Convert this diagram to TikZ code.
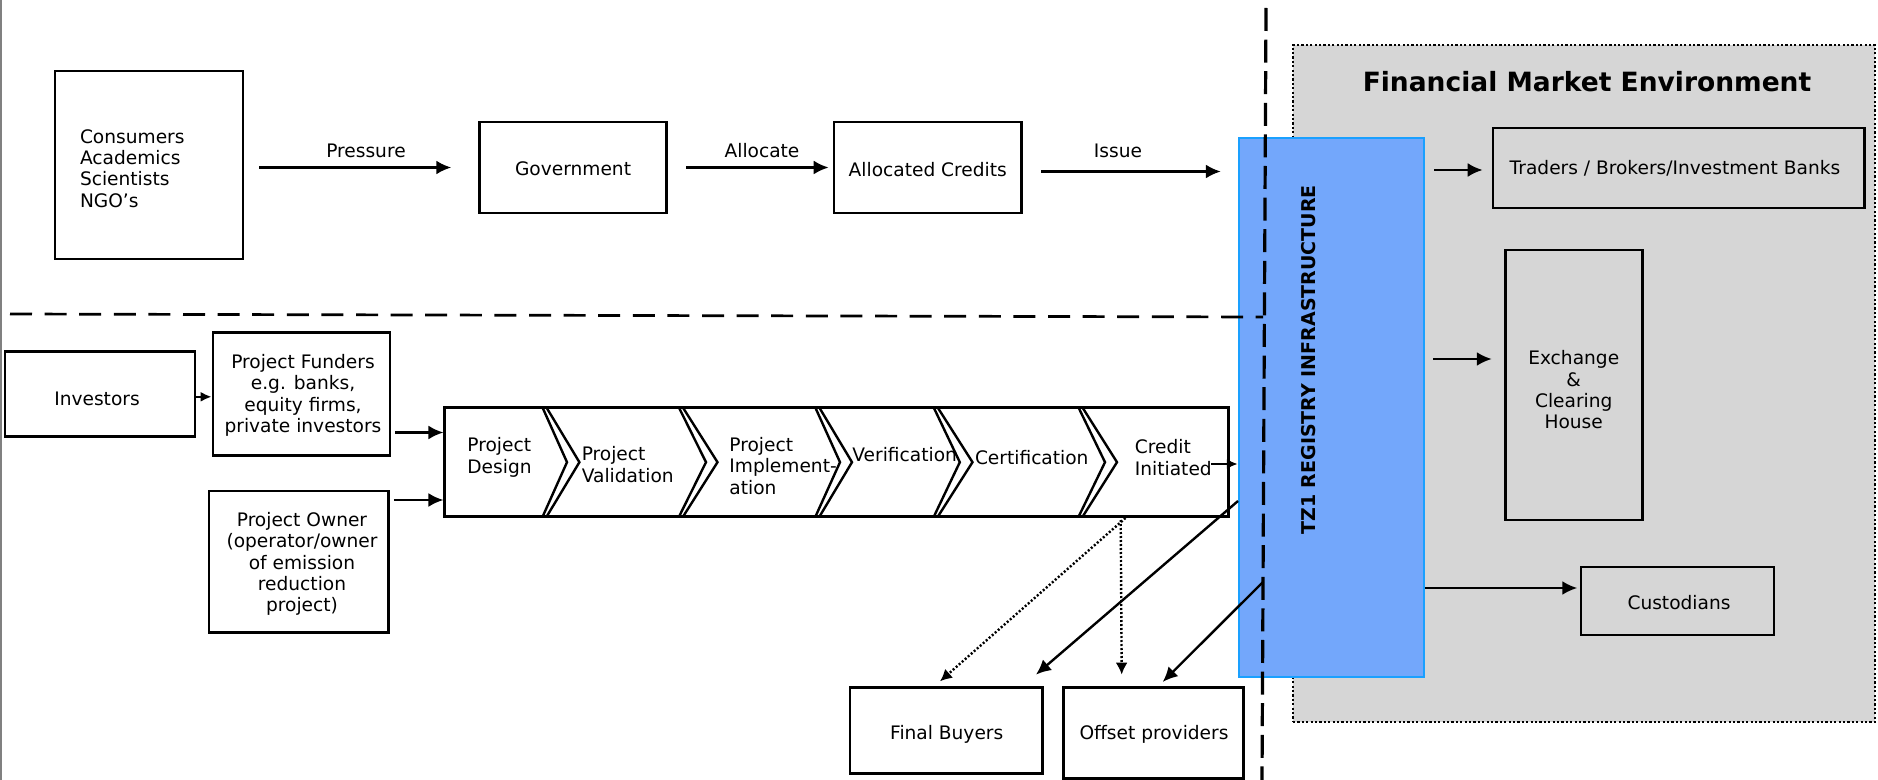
\documentclass[tikz,border=0pt]{standalone}
\usepackage{fontspec}
\setmainfont{DejaVu Sans}
\usetikzlibrary{arrows.meta,fit}
\definecolor{regblue}{HTML}{73A7FB}
\definecolor{regedge}{HTML}{1AA0FF}
\definecolor{fmgray}{HTML}{D6D6D6}
\begin{document}
\begin{tikzpicture}[x=0.5pt,y=-0.5pt,
  every node/.style={font=\fontsize{9.3}{10.65}\selectfont, inner sep=0pt},
  box/.style={draw, line width=1.35pt, inner sep=0pt},
  arr/.style={line width=1.2pt, -{Latex[length=7.5pt,width=7pt]}},
  sarr/.style={line width=1.1pt, -{Latex[length=5.5pt,width=5pt]}},
  darr/.style={line width=1.2pt, dash pattern=on 1pt off 1pt, -{Latex[length=6pt,width=6pt]}},
  sep/.style={line width=1.2pt, line join=miter}]
\useasboundingbox (0,0) rectangle (1878,780);
% left border
\draw[gray, line width=1pt] (1,0) -- (1,780);
% financial market environment area
\node[fill=fmgray, draw, line width=1.1pt, dash pattern=on 1.1pt off 1.1pt, fit={(1293,45) (1875,722)}] (fme) {};
\node[font=\bfseries\fontsize{13.25}{15}\selectfont] (fmtitle) at (1587,82) {Financial Market Environment};
% registry
\node[draw=regedge, fill=regblue, line width=1.2pt, fit={(1239,138) (1424,677)}] (reg) {};
% dashed separators
\draw[line width=1.35pt, dash pattern=on 11pt off 6.3pt] (10,314) -- (1263,317);
\draw[line width=1.6pt, dash pattern=on 11.5pt off 4.3pt] (1266,8) -- (1262,780);
\node[rotate=90, font=\bfseries\fontsize{9.5}{11}\selectfont] (regtxt) at (1309,360) {TZ1 REGISTRY INFRASTRUCTURE};
% top row
\node[box, fit={(55,71) (243,259)}] (cons) {};
\node[anchor=west, align=left] (constxt) at (79.6,168.5) {Consumers\\Academics\\Scientists\\NGO’s};
\node[box, fit={(479.6,122) (666.5,213)}] (gov) {};
\node (govtxt) at ([yshift=-0.8pt]gov.center) {Government};
\node[box, fit={(834,122) (1021.5,213)}] (ac) {};
\node (actxt) at ([yshift=-0.8pt]ac.center) {Allocated Credits};
\node (lpress) at (366,151) {Pressure};
\node (lalloc) at (762,151) {Allocate};
\node (lissue) at (1118,151) {Issue};
\draw[arr, shorten <=7.5pt, shorten >=13.5pt] (cons.east |- gov.west) -- (gov.west);
\draw[arr, shorten <=9.25pt, shorten >=2pt] (gov.east) -- (ac.west);
\draw[arr, shorten <=9.25pt, shorten >=8.5pt] ([yshift=-2pt]ac.east) -- ([yshift=-2pt]ac.east -| reg.west);
% market participants
\node[box, fit={(1493,128) (1864.6,208)}] (tr) {};
\node (trtxt) at (1675,168) {Traders / Brokers/Investment Banks};
\node[box, fit={(1505.7,250) (1642.8,520)}] (exch) {};
\node[align=center] (exchtxt) at (1573.7,390) {Exchange\\\&\\Clearing\\House};
\node[box, fit={(1581,567) (1774,635)}] (cust) {};
\node (custtxt) at (1679,603) {Custodians};
\coordinate (exy) at (1432,359);
\coordinate (cuy) at (1424,588);
\draw[arr, shorten <=4.5pt, shorten >=4.5pt] ([yshift=-1pt]reg.east |- tr.west) -- ([yshift=-1pt]tr.west);
\draw[arr, shorten <=4pt, shorten >=6.3pt] (reg.east |- exy) -- (exy -| exch.west);
\draw[arr, shorten >=1.2pt] (reg.east |- cuy) -- (cuy -| cust.west);
% left lower boxes
\node[box, fit={(4.9,351.7) (195,436.7)}] (inv) {};
\node (invtxt) at (97,398.7) {Investors};
\node[box, fit={(213,332.7) (390,455.7)}] (pf) {};
\node[align=center] (pftxt) at (303,395.5) {Project Funders\\e.g. banks,\\equity firms,\\private investors};
\node[box, fit={(209,491) (388.5,632.7)}] (po) {};
\node[align=center] (potxt) at (302,564) {Project Owner\\(operator/owner\\of emission\\reduction\\project)};
\draw[sarr] ([yshift=-1.3pt]inv.east) -- ([yshift=-1.3pt]inv.east -| pf.west);
% chevron process
\node[box, fit={(444.8,407.7) (1228.8,516.7)}] (chev) {};
\foreach \xt/\a/\b in {542.6/24.4/36.8, 679/27/38.5, 815.4/24.6/36.6, 933.8/26/38.7, 1078.6/26.4/38.4}{
  \draw[sep] (\xt,407.7) -- (\xt+\a,462.2) -- (\xt,516.7);
  \draw[sep] (\xt+4,407.7) -- (\xt+\b,462.2) -- (\xt+4,516.7);
}
\node[anchor=west, align=left] (pdes) at (467,457.5) {Project\\Design};
\node[anchor=west, align=left] (pval) at (581.4,464.5) {Project\\Validation};
\node[anchor=west, align=left] (pimp) at (729,466) {Project\\Implement-\\ation};
\node[anchor=west] (pver) at (852,455) {Verification};
\node[anchor=west] (pcer) at (974.6,457.3) {Certification};
\node[anchor=west, align=left] (pcred) at (1134.5,457.5) {Credit\\Initiated};
\coordinate (fcy) at (394,432.5);
\coordinate (ocy) at (392.5,500);
\draw[arr, shorten <=2pt] (pf.east |- fcy) -- (fcy -| chev.west);
\draw[arr, shorten <=2pt] (po.east |- ocy) -- (ocy -| chev.west);
\coordinate (crs) at (1211,464);
\draw[sarr] (crs) -- (crs -| reg.west);
% buyers
\node[box, fit={(850,687.7) (1042.7,773.3)}] (fb) {};
\node (fbtxt) at (946.7,734.3) {Final Buyers};
\node[box, fit={(1063.3,687.7) (1243.3,778.3)}] (op) {};
\node (optxt) at (1154,734) {Offset providers};
\coordinate (d1) at (1125.5,518);
\coordinate (d2) at (1120.7,520);
\coordinate (s1) at (1238,501);
\coordinate (s2) at (1263.3,581.7);
\draw[darr] (d1) -- ([xshift=-3.2pt,yshift=2.5pt]fb.north);
\draw[darr] (d2) -- ([xshift=-15.8pt,yshift=5.85pt]op.north);
\draw[arr] (s1) -- ([xshift=44.8pt,yshift=5.85pt]fb.north);
\draw[arr] (s2) -- ([xshift=4.7pt,yshift=2.2pt]op.north);
\end{tikzpicture}
\end{document}
